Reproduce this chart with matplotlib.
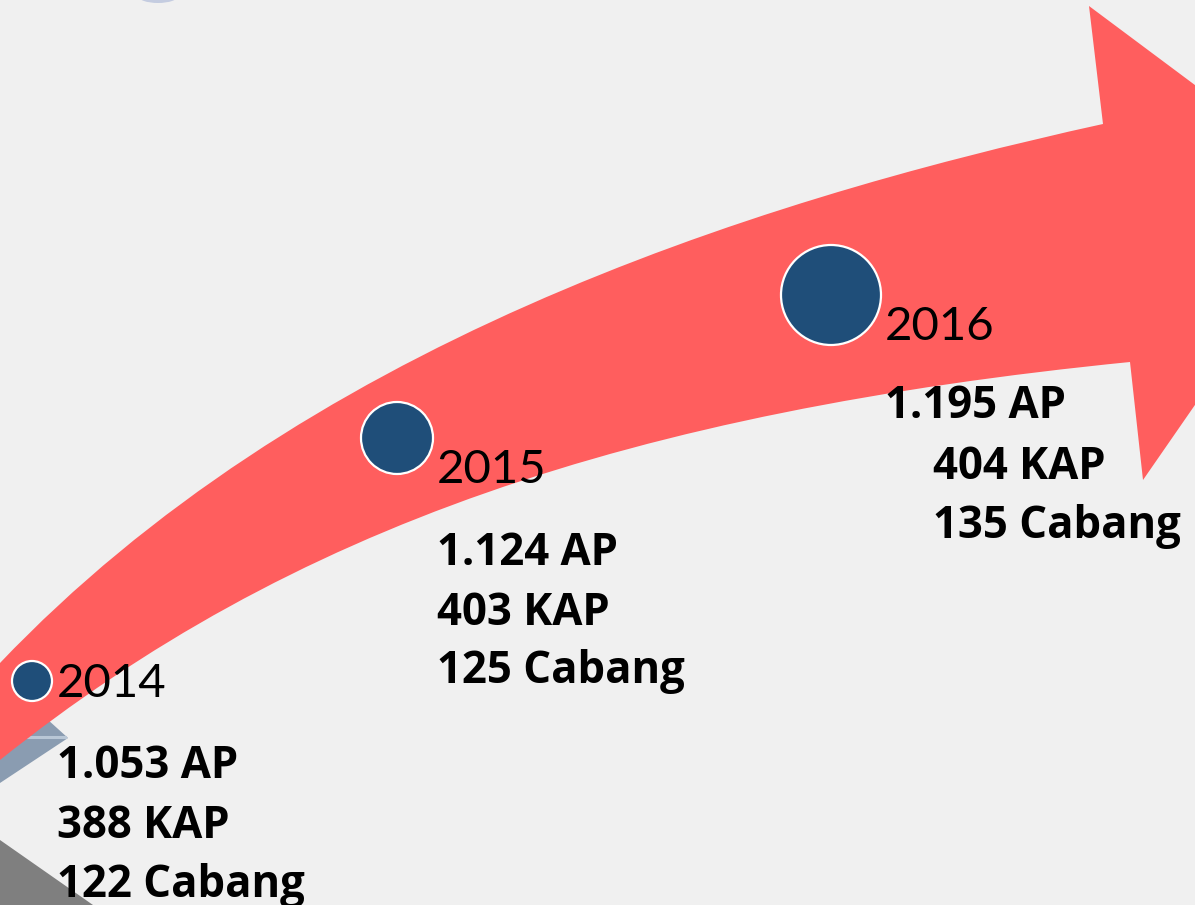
import matplotlib
matplotlib.use("Agg")
import matplotlib.pyplot as plt
from matplotlib.path import Path
from matplotlib.patches import PathPatch, Polygon, Ellipse

# ---- data ----
years = ["2014", "2015", "2016"]
ap = [1053, 1124, 1195]
kap = [388, 403, 404]
cabang = [122, 125, 135]

# ---- layout (pixel coordinates of the canvas) ----
W, H = 1195, 905
circle_x = [32, 397, 831]
circle_y = [681, 438, 295]
circle_r = [20, 36, 50]
year_pos = [(57, 697), (437, 483), (885, 340)]
block_pos = [[(57, 778), (57, 838), (57, 897)],
             [(437, 565), (437, 625), (437, 683)],
             [(885, 418), (933, 479), (933, 538)]]

BG = "#F0F0F0"
RED = "#FF5E5E"
BLUE = "#1F4E79"
FONT = ["Lato", "DejaVu Sans"]
BOLD_FONT = ["Open Sans", "DejaVu Sans"]


def fmt_thousands(v):
    return f"{v:,}".replace(",", ".")


fig = plt.figure(figsize=(W / 100, H / 100), dpi=100)
fig.patch.set_facecolor(BG)
ax = fig.add_axes([0, 0, 1, 1])
ax.set_xlim(0, W)
ax.set_ylim(H, 0)
ax.axis("off")
ax.set_facecolor(BG)

# decorative grey shapes bottom-left
ax.add_patch(Polygon([(15, 690), (68, 738), (0, 783), (0, 700)], closed=True,
                     facecolor="#8A9CB1", edgecolor="none", zorder=1))
ax.plot([28, 65], [737, 737], color="#B9C7D6", lw=2.2, zorder=1.5)
ax.add_patch(Polygon([(0, 840), (93, 905), (0, 905)], closed=True,
                     facecolor="#7F7F7F", edgecolor="none", zorder=1))
ax.add_patch(Ellipse((158, -4), 40, 14, facecolor="#A7B4D6", alpha=0.6,
                     edgecolor="none", zorder=1))

# curved arrow
verts = [
    (0, 663),
    (300, 348), (739, 204), (1103, 124),   # upper edge
    (1089, 6),                              # upper barb
    (1341, 194),                            # tip
    (1143, 480),                            # lower barb
    (1130, 362),
    (630, 412), (290, 528), (0, 760),       # lower edge
    (0, 663),
]
codes = [Path.MOVETO,
         Path.CURVE4, Path.CURVE4, Path.CURVE4,
         Path.LINETO, Path.LINETO, Path.LINETO, Path.LINETO,
         Path.CURVE4, Path.CURVE4, Path.CURVE4,
         Path.CLOSEPOLY]
ax.add_patch(PathPatch(Path(verts, codes), facecolor=RED, edgecolor="none", zorder=2))

# year markers
sizes = [(2 * r * 72 / 100) ** 2 for r in circle_r]
ax.scatter(circle_x, circle_y, s=sizes, color=BLUE, edgecolors="white",
           linewidths=1.6, zorder=3)

for i, yr in enumerate(years):
    x, y = year_pos[i]
    ax.text(x, y, yr, fontsize=34, family=FONT, color="black",
            ha="left", va="baseline", zorder=4)
    lines = [f"{fmt_thousands(ap[i])} AP", f"{kap[i]} KAP", f"{cabang[i]} Cabang"]
    for (bx, by), t in zip(block_pos[i], lines):
        ax.text(bx, by, t, fontsize=31.5, family=BOLD_FONT, fontweight="bold",
                color="black", ha="left", va="baseline", zorder=4)

fig.savefig("out.png", dpi=100, facecolor=BG)
